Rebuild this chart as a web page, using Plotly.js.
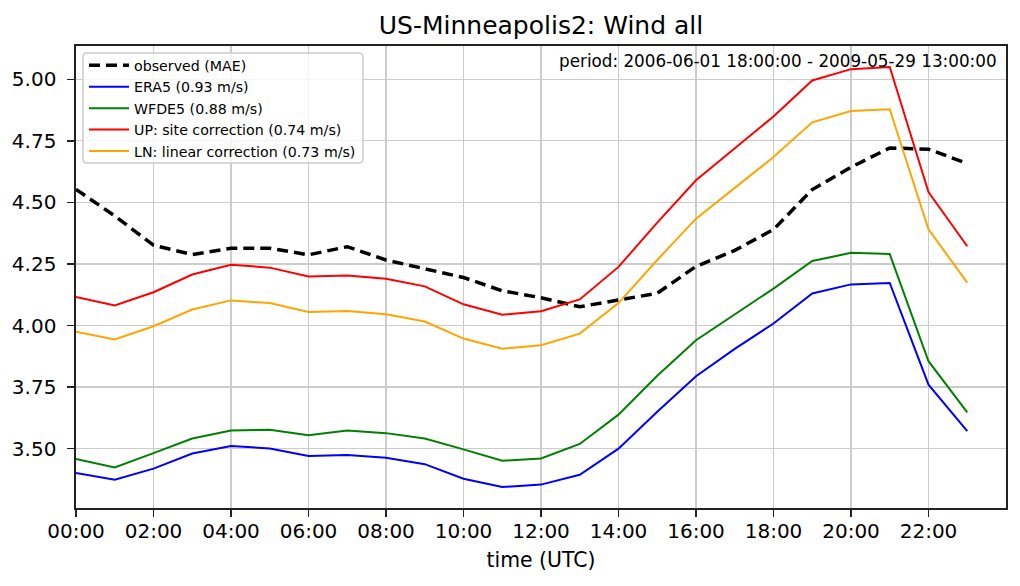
<!DOCTYPE html>
<html>
<head>
<meta charset="utf-8">
<script src="https://cdn.plot.ly/plotly-3.0.1.min.js"></script>
<style>html,body{margin:0;padding:0;background:#fff;}#chart{width:1020px;height:586px;}</style>
</head>
<body>
<div id="chart"></div>
<script>
const hours = [0,1,2,3,4,5,6,7,8,9,10,11,12,13,14,15,16,17,18,19,20,21,22,23];
const tickHours = [0,2,4,6,8,10,12,14,16,18,20,22];
const tickLabels = ["00:00","02:00","04:00","06:00","08:00","10:00","12:00","14:00","16:00","18:00","20:00","22:00"];

const observed = [4.553,4.445,4.326,4.288,4.314,4.314,4.287,4.320,4.266,4.229,4.195,4.141,4.113,4.076,4.104,4.131,4.240,4.305,4.390,4.552,4.643,4.721,4.716,4.658];
const era5     = [3.401,3.374,3.419,3.480,3.511,3.501,3.470,3.474,3.463,3.437,3.378,3.344,3.354,3.394,3.500,3.650,3.794,3.905,4.008,4.130,4.167,4.173,3.760,3.571];
const wfde5    = [3.458,3.424,3.482,3.541,3.574,3.577,3.554,3.574,3.563,3.541,3.497,3.451,3.460,3.519,3.638,3.796,3.940,4.046,4.150,4.262,4.295,4.290,3.855,3.647];
const upSite   = [4.116,4.081,4.135,4.207,4.247,4.235,4.199,4.203,4.190,4.159,4.086,4.044,4.058,4.106,4.238,4.418,4.590,4.720,4.849,4.995,5.041,5.050,4.542,4.322];
const lnLinear = [3.975,3.943,3.997,4.065,4.102,4.091,4.055,4.059,4.046,4.016,3.947,3.906,3.920,3.967,4.091,4.266,4.434,4.560,4.684,4.825,4.871,4.878,4.391,4.174];

const seriesNames = ["observed (MAE)","ERA5 (0.93 m/s)","WFDE5 (0.88 m/s)","UP: site correction (0.74 m/s)","LN: linear correction (0.73 m/s)"];

const font = "DejaVu Sans, sans-serif";
const traces = [
  {x: hours, y: observed, name: seriesNames[0], mode: "lines", line: {color: "#000000", width: 3.5, dash: "11px,6px"}},
  {x: hours, y: era5, name: seriesNames[1], mode: "lines", line: {color: "#0000ff", width: 2}},
  {x: hours, y: wfde5, name: seriesNames[2], mode: "lines", line: {color: "#008000", width: 2}},
  {x: hours, y: upSite, name: seriesNames[3], mode: "lines", line: {color: "#ff0000", width: 2}},
  {x: hours, y: lnLinear, name: seriesNames[4], mode: "lines", line: {color: "#ffa500", width: 2}}
];

// legend frame geometry (plot area 930 x 462 px)
const PW = 930, PH = 462;
const bx0 = 7 / PW, bx1 = 287 / PW, by0 = 1 - 117 / PH, by1 = 1 - 7 / PH;
const rx = 4 / PW, ry = 4 / PH;
const framePath = `M ${bx0 + rx} ${by1} L ${bx1 - rx} ${by1} Q ${bx1} ${by1} ${bx1} ${by1 - ry} L ${bx1} ${by0 + ry} Q ${bx1} ${by0} ${bx1 - rx} ${by0} L ${bx0 + rx} ${by0} Q ${bx0} ${by0} ${bx0} ${by0 + ry} L ${bx0} ${by1 - ry} Q ${bx0} ${by1} ${bx0 + rx} ${by1} Z`;

const layout = {
  width: 1020, height: 586,
  margin: {l: 76, r: 14, t: 46, b: 78},
  paper_bgcolor: "#ffffff", plot_bgcolor: "#ffffff",
  font: {family: font, size: 20, color: "#000000"},
  title: {text: "US-Minneapolis2: Wind all", x: 0.5, xref: "paper", y: 0.957, yanchor: "middle", font: {family: font, size: 25, color: "#000"}},
  xaxis: {
    range: [0, 24], tickvals: tickHours, ticktext: tickLabels,
    showgrid: true, gridcolor: "#cccccc", gridwidth: 1.2,
    showline: true, linecolor: "#222", linewidth: 1.6, mirror: true,
    ticks: "outside", ticklen: 7, tickwidth: 1.5, tickcolor: "#222",
    ticklabelstandoff: -3,
    zeroline: false,
    tickfont: {family: font, size: 20},
    title: {text: "time (UTC)", font: {family: font, size: 20.4}, standoff: 11}
  },
  yaxis: {
    range: [3.259, 5.135], dtick: 0.25, tick0: 3.5, tickformat: ".2f",
    showgrid: true, gridcolor: "#cccccc", gridwidth: 1.2,
    showline: true, linecolor: "#222", linewidth: 1.6, mirror: true,
    ticks: "outside", ticklen: 7, tickwidth: 1.5, tickcolor: "#222",
    ticklabelstandoff: 7,
    zeroline: false,
    tickfont: {family: font, size: 20}
  },
  shapes: [{
    type: "path", xref: "paper", yref: "paper", path: framePath, layer: "above",
    fillcolor: "rgba(255,255,255,0.8)", line: {color: "#cccccc", width: 1.5}
  }],
  legend: {
    x: 8 / PW, y: 1 - 3.5 / PH, xanchor: "left", yanchor: "top",
    bgcolor: "rgba(0,0,0,0)", borderwidth: 0, itemwidth: 40,
    font: {family: font, size: 14.2}, tracegroupgap: 0
  },
  annotations: [{
    text: "period: 2006-06-01 18:00:00 - 2009-05-29 13:00:00",
    xref: "paper", yref: "paper", x: 0.992, y: 0.993, xanchor: "right", yanchor: "top",
    showarrow: false, font: {family: font, size: 16.8, color: "#000"}
  }]
};

Plotly.newPlot("chart", traces, layout, {displayModeBar: false, staticPlot: true});
</script>
</body>
</html>
